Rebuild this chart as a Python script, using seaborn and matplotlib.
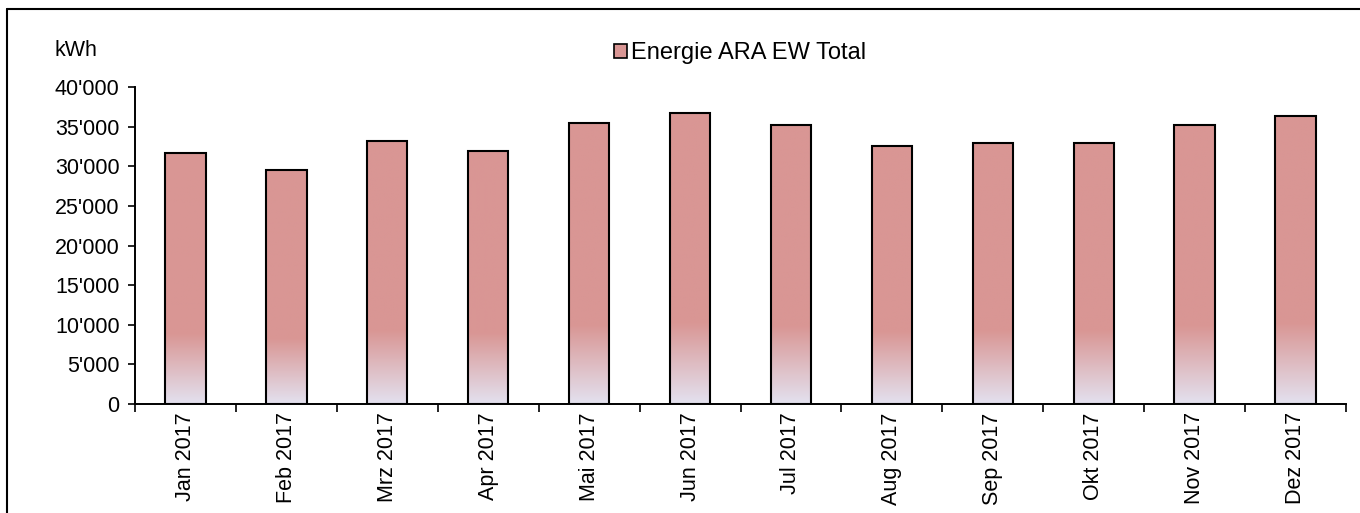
import numpy as np
import pandas as pd
import matplotlib
matplotlib.use("Agg")
import matplotlib.pyplot as plt
import matplotlib.ticker as mticker
from matplotlib.colors import to_rgb
from matplotlib.patches import Rectangle
import seaborn as sns

# data
months = ["Jan 2017", "Feb 2017", "Mrz 2017", "Apr 2017", "Mai 2017", "Jun 2017",
          "Jul 2017", "Aug 2017", "Sep 2017", "Okt 2017", "Nov 2017", "Dez 2017"]
energy = [31700, 29500, 33200, 32000, 35500, 36700,
          35200, 32600, 33000, 33000, 35300, 36400]
series_name = "Energie ARA EW Total"

df = pd.DataFrame({"Monat": months, "kWh": energy})

sns.set_style("white")
plt.rcParams["font.family"] = ["Liberation Sans", "DejaVu Sans"]
plt.rcParams["text.color"] = "black"
plt.rcParams["xtick.color"] = "black"
plt.rcParams["ytick.color"] = "black"
plt.rcParams["xtick.labelcolor"] = "black"
plt.rcParams["ytick.labelcolor"] = "black"

top_col = np.array(to_rgb("#D99694"))
bot_col = np.array(to_rgb("#E3E1EF"))

fig = plt.figure(figsize=(13.6, 5.13), dpi=100)
ax = fig.add_axes([135 / 1360, 1 - 404 / 513, (1346 - 135) / 1360, (404 - 87.3) / 513])

sns.barplot(data=df, x="Monat", y="kWh", ax=ax, width=0.4, color="#D99694",
            edgecolor="black", linewidth=1.5, saturation=1)

# gradient: lavender at the bottom, pink from ~28% of the height upwards
n = 256
frac = np.linspace(0, 1, n)
t = np.clip(frac / 0.28, 0, 1)[:, None]
grad = bot_col * (1 - t) + top_col * t
grad = grad[:, None, :]

for p in ax.patches:
    x0, y0 = p.get_x(), p.get_y()
    w, h = p.get_width(), p.get_height()
    p.set_facecolor("none")
    p.set_zorder(3)
    ax.imshow(grad, extent=[x0, x0 + w, y0, y0 + h], origin="lower",
              aspect="auto", zorder=2, interpolation="bilinear")

ax.set_xlim(-0.5, len(months) - 0.5)
ax.set_ylim(0, 40000)
ax.yaxis.set_major_locator(mticker.MultipleLocator(5000))
ax.yaxis.set_major_formatter(mticker.FuncFormatter(lambda v, pos: f"{int(v):,}".replace(",", "'")))

ax.set_xticks(np.arange(len(months)))
ax.set_xticklabels(months, rotation=90, fontsize=15.5)
ax.set_xticks(np.arange(len(months) + 1) - 0.5, minor=True)
ax.tick_params(axis="x", which="major", length=0, pad=6)
ax.tick_params(axis="x", which="minor", length=6, width=1.2, direction="out", color="black")
ax.tick_params(axis="y", length=5, width=1.2, direction="out", color="black", labelsize=15.5, pad=6)
ax.tick_params(left=True, bottom=True, which="both")
ax.tick_params(axis="x", which="major", bottom=False)

ax.set_xlabel("")
ax.set_ylabel("")
sns.despine(ax=ax)
for s in ["left", "bottom"]:
    ax.spines[s].set_color("black")
    ax.spines[s].set_linewidth(1.4)

fig.text(55 / 1360, 1 - 51 / 513, "kWh", fontsize=15.5, va="center", ha="left")

# legend entry
handle = Rectangle((0, 0), 1, 1, facecolor="#D99694", edgecolor="black", linewidth=1.2)
fig.legend([handle], [series_name], loc="center", bbox_to_anchor=(740 / 1360, 1 - 53 / 513),
           frameon=False, fontsize=17, handlelength=0.55, handleheight=0.55, handletextpad=0.2)

# chart frame
fig.add_artist(plt.Line2D([7 / 1360, 7 / 1360], [0, 1 - 9 / 513], transform=fig.transFigure,
                          color="black", linewidth=1.5))
fig.add_artist(plt.Line2D([7 / 1360, 1], [1 - 9 / 513, 1 - 9 / 513], transform=fig.transFigure,
                          color="black", linewidth=1.5))

fig.savefig("out.png", dpi=100)
